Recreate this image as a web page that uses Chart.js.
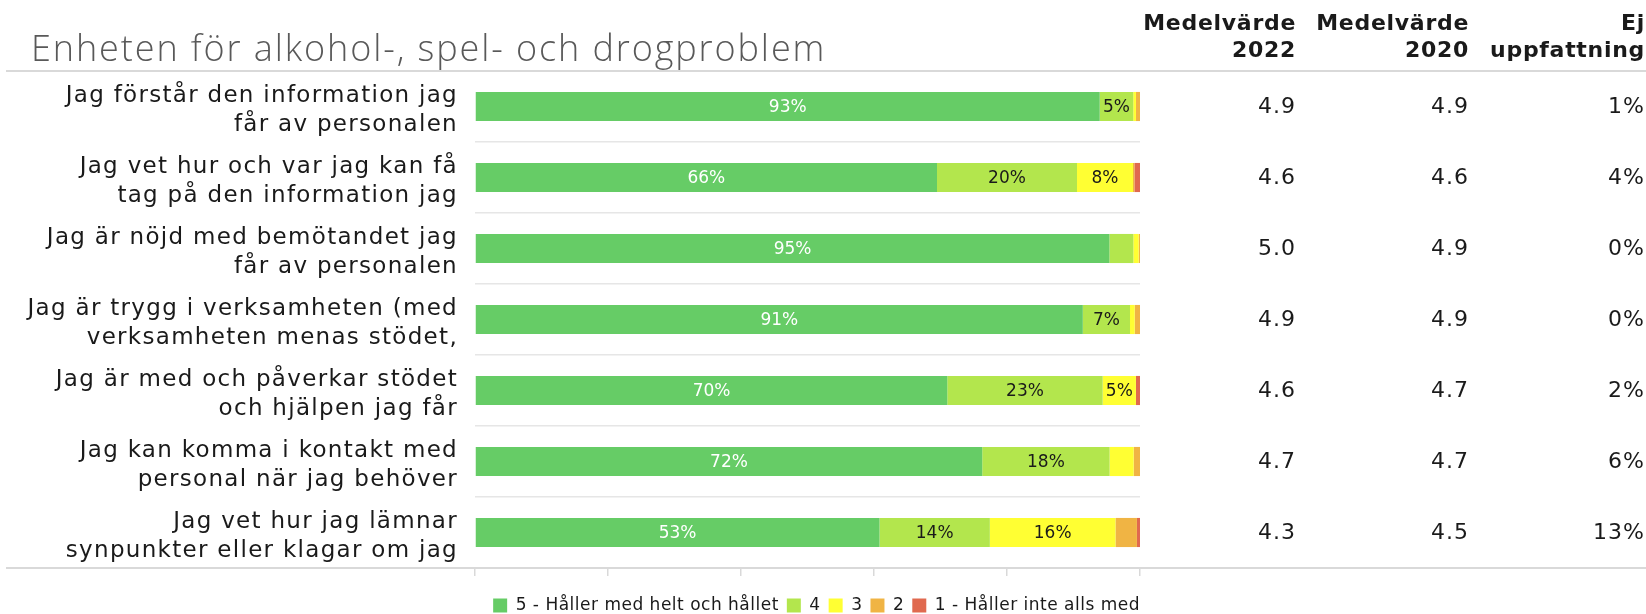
<!DOCTYPE html>
<html lang="sv">

<head>
  <meta charset="UTF-8" />
  <title>Enheten för alkohol-, spel- och drogproblem</title>
  <script src="https://cdn.jsdelivr.net/npm/chart.js"></script>
  <style>
    body {
      margin: 0;
      background: #ffffff;
    }

    #chart-container {
      width: 1646px;
      height: 614px;
    }
  </style>
</head>

<body>

  <div id="chart-container">
    <canvas id="enkatChart"></canvas>
  </div>

  <script>
    // Frågorna (två rader per etikett)
    const categories = [
      ['Jag förstår den information jag', 'får av personalen'],
      ['Jag vet hur och var jag kan få', 'tag på den information jag'],
      ['Jag är nöjd med bemötandet jag', 'får av personalen'],
      ['Jag är trygg i verksamheten (med', 'verksamheten menas stödet,'],
      ['Jag är med och påverkar stödet', 'och hjälpen jag får'],
      ['Jag kan komma i kontakt med', 'personal när jag behöver'],
      ['Jag vet hur jag lämnar', 'synpunkter eller klagar om jag']
    ];

    const seriesNames = ['5 - Håller med helt och hållet', '4', '3', '2', '1 - Håller inte alls med'];
    const seriesColors = ['#66cc66', '#b3e64d', '#ffff33', '#f0b444', '#e0694f'];

    // Andel av alla svarande (%), "Ej uppfattning" räknas separat
    const svar5 = [93, 66, 95.4, 91.4, 69.6, 71.7, 52.8];
    const svar4 = [5, 20, 3.6, 7.1, 22.9, 18.0, 14.4];
    const svar3 = [0.4, 8, 0.8, 0.7, 4.9, 3.4, 16.4];
    const svar2 = [0.6, 0.2, 0.2, 0.8, 0, 0.9, 2.8];
    const svar1 = [0, 0.8, 0, 0, 0.6, 0, 0.4];

    const medel2022 = ['4.9', '4.6', '5.0', '4.9', '4.6', '4.7', '4.3'];
    const medel2020 = ['4.9', '4.6', '4.9', '4.9', '4.7', '4.7', '4.5'];
    const ejUppfattning = ['1%', '4%', '0%', '0%', '2%', '6%', '13%'];

    const FONT = "'DejaVu Sans', sans-serif";
    const AVSTAND = '1.3px';

    // Staplarna visar fördelningen bland dem som har en uppfattning
    const allaSvar = [svar5, svar4, svar3, svar2, svar1];
    const radSumma = categories.map((c, i) => allaSvar.reduce((s, serie) => s + serie[i], 0));

    const datasets = allaSvar.map((serie, k) => ({
      label: seriesNames[k],
      data: serie.map((v, i) => v / radSumma[i] * 100),
      procent: serie,
      backgroundColor: seriesColors[k],
      borderWidth: 0,
      barPercentage: 0.82,
      categoryPercentage: 0.5
    }));

    // Bredare teckenavstånd för axeltexter, lite mindre i förklaringen
    const bokstavsavstand = {
      id: 'bokstavsavstand',
      beforeUpdate(chart) { chart.ctx.letterSpacing = AVSTAND; },
      beforeDraw(chart) { chart.ctx.letterSpacing = AVSTAND; },
      afterInit(chart) {
        const lg = chart.legend;
        if (!lg) return;
        const fit = lg.fit.bind(lg);
        const draw = lg.draw.bind(lg);
        lg.fit = function () {
          const old = chart.ctx.letterSpacing;
          chart.ctx.letterSpacing = '0.5px';
          fit();
          chart.ctx.letterSpacing = old;
        };
        lg.draw = function () {
          const c = chart.ctx;
          c.save();
          c.letterSpacing = '0.5px';
          c.translate(8, 0);
          draw();
          c.restore();
        };
      }
    };

    // Procenttal inne i staplarna
    const stapelEtiketter = {
      id: 'stapelEtiketter',
      afterDatasetsDraw(chart) {
        const ctx = chart.ctx;
        ctx.save();
        ctx.letterSpacing = '0px';
        ctx.font = '17px ' + FONT;
        ctx.textAlign = 'center';
        ctx.textBaseline = 'middle';
        chart.data.datasets.forEach((ds, k) => {
          chart.getDatasetMeta(k).data.forEach((bar, i) => {
            const v = ds.procent[i];
            if (v < 4.5) return;
            const p = bar.getCenterPoint();
            ctx.fillStyle = k === 0 ? '#ffffff' : '#1a1a1a';
            ctx.fillText(Math.round(v) + '%', p.x, p.y + 1);
          });
        });
        ctx.restore();
      }
    };

    // Rubrik, tabellkolumner och heldragna linjer
    const tabell = {
      id: 'tabell',
      afterDraw(chart) {
        const ctx = chart.ctx;
        const area = chart.chartArea;
        const y = chart.scales.y;
        ctx.save();

        ctx.strokeStyle = '#d9d9d9';
        ctx.lineWidth = 2;
        [area.top, area.bottom].forEach(ly => {
          ctx.beginPath();
          ctx.moveTo(6, ly);
          ctx.lineTo(chart.width, ly);
          ctx.stroke();
        });

        ctx.fillStyle = '#595959';
        ctx.letterSpacing = '1.9px';
        ctx.font = "300 36px 'Open Sans', sans-serif";
        ctx.textAlign = 'left';
        ctx.textBaseline = 'alphabetic';
        ctx.fillText('Enheten för alkohol-, spel- och drogproblem', 31, 61);

        const kolumner = [
          { x: 1296, rubrik: ['Medelvärde', '2022'], varden: medel2022 },
          { x: 1469, rubrik: ['Medelvärde', '2020'], varden: medel2020 },
          { x: 1645, rubrik: ['Ej', 'uppfattning'], varden: ejUppfattning }
        ];
        ctx.textAlign = 'right';
        ctx.textBaseline = 'middle';
        kolumner.forEach(kol => {
          ctx.fillStyle = '#1a1a1a';
          ctx.letterSpacing = '0.7px';
          ctx.font = 'bold 22px ' + FONT;
          ctx.fillText(kol.rubrik[0], kol.x, 24);
          ctx.fillText(kol.rubrik[1], kol.x, 51);
          ctx.letterSpacing = '1px';
          ctx.font = '22px ' + FONT;
          kol.varden.forEach((v, i) => {
            ctx.fillText(v, kol.x, y.getPixelForValue(i) + 1);
          });
        });
        ctx.restore();
      }
    };

    const ctx = document.getElementById('enkatChart').getContext('2d');

    new Chart(ctx, {
      type: 'bar',
      data: {
        labels: categories,
        datasets: datasets
      },
      options: {
        indexAxis: 'y',
        responsive: true,
        maintainAspectRatio: false,
        animation: false,
        layout: {
          padding: { top: 71, right: 506, left: 0, bottom: -10 }
        },
        plugins: {
          legend: {
            position: 'bottom',
            align: 'end',
            labels: {
              boxWidth: 14,
              boxHeight: 14,
              padding: 8,
              color: '#1a1a1a',
              font: { family: FONT, size: 17 }
            }
          },
          tooltip: { enabled: false }
        },
        scales: {
          x: {
            stacked: true,
            min: 0,
            max: 100,
            afterFit: scale => { scale.height = 21; },
            ticks: { stepSize: 20, display: false },
            grid: {
              drawOnChartArea: false,
              drawTicks: true,
              tickLength: 8,
              color: '#d9d9d9',
              lineWidth: 1.5
            },
            border: { display: false }
          },
          y: {
            stacked: true,
            afterFit: scale => { scale.width = 475; },
            ticks: {
              padding: 17,
              labelOffset: 4,
              color: '#1a1a1a',
              font: { family: FONT, size: 23, lineHeight: 1.24 }
            },
            grid: {
              offset: true,
              drawTicks: false,
              color: '#e6e6e6',
              lineWidth: 1.5
            },
            border: { display: false }
          }
        }
      },
      plugins: [bokstavsavstand, stapelEtiketter, tabell]
    });
  </script>

</body>

</html>
